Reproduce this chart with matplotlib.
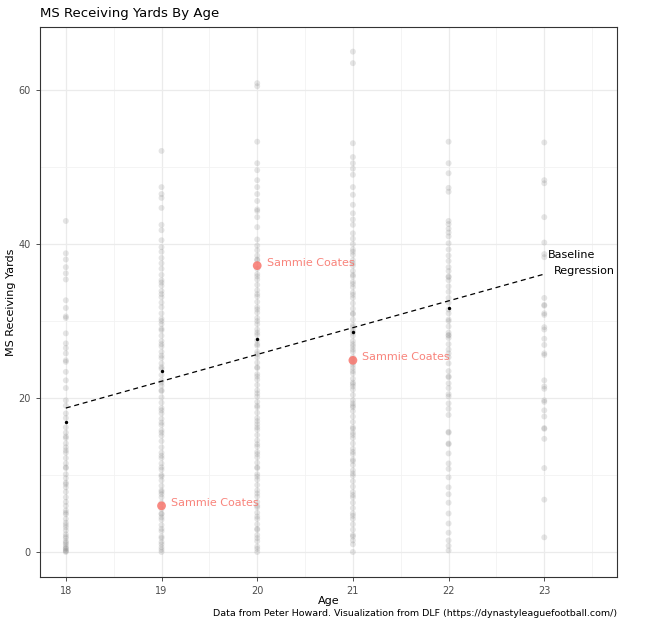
import numpy as np
import matplotlib
matplotlib.use("Agg")
import matplotlib.pyplot as plt

# Market share of receiving yards, one list per age
age18 = [43.0, 38.8, 38.0, 37.0, 36.2, 35.4, 32.7, 31.7, 30.6, 30.4, 28.4, 27.1,
         26.5, 25.8, 24.9, 24.7, 23.4, 22.3, 21.3, 19.7, 19.0, 18.0, 17.4, 16.2,
         15.5, 15.0, 14.8, 14.1, 13.6, 13.2, 12.9, 12.2, 11.5, 11.0, 10.9, 10.1,
         9.6, 9.0, 8.8, 8.4, 7.8, 7.1, 6.5, 6.0, 5.4, 5.1, 4.9, 4.3, 3.8, 3.5,
         3.2, 2.8, 2.3, 2.0, 1.8, 1.4, 1.2, 1.0, 0.7, 0.5, 0.4, 0.2, 0.1, 0.0]
age19 = [52.1, 47.4, 46.5, 46.0, 44.7, 42.5, 41.8, 40.5, 39.6, 39.0, 38.2, 37.5,
         36.8, 36.0, 35.3, 34.6, 33.9, 33.1, 32.4, 31.8, 31.0, 30.3, 29.6, 28.8,
         28.1, 27.4, 26.7, 26.0, 25.2, 24.5, 23.8, 23.0, 22.3, 21.6, 20.9, 20.1,
         19.4, 18.7, 18.0, 17.3, 16.5, 15.8, 15.1, 14.4, 13.6, 12.9, 12.2, 11.5,
         10.7, 10.0, 9.3, 8.6, 7.8, 7.1, 6.4, 5.6, 4.9, 4.2, 3.5, 2.7, 2.0, 1.3,
         0.6, 0.0, 35.0, 30.0, 27.0, 24.0, 21.0, 18.4, 15.5, 12.5, 9.8, 7.5, 5.0,
         3.0, 1.0, 0.3, 33.5, 29.0, 25.5, 22.0, 16.8, 11.0, 8.0, 4.5, 1.8]
age20 = [60.9, 60.5, 53.3, 50.5, 49.6, 48.3, 47.4, 46.5, 45.6, 44.5, 44.3, 43.5,
         42.2, 40.6, 39.8, 39.2, 38.5, 37.9, 36.8, 36.1, 35.4, 34.7, 34.0, 33.2,
         32.5, 31.8, 31.1, 30.4, 29.6, 28.9, 28.2, 27.5, 26.8, 26.0, 25.3, 24.6,
         23.9, 23.1, 22.4, 21.7, 21.0, 20.2, 19.5, 18.8, 18.1, 17.4, 16.6, 15.9,
         15.2, 14.5, 13.7, 13.0, 12.3, 11.6, 10.9, 10.1, 9.4, 8.7, 8.0, 7.2, 6.5,
         5.8, 5.1, 4.3, 3.6, 2.9, 2.2, 1.4, 0.7, 0.0, 38.0, 33.5, 30.0, 27.0,
         24.0, 20.6, 17.0, 14.0, 11.0, 7.6, 4.6, 1.8, 35.8, 31.5, 28.5, 25.7,
         22.8, 19.0, 16.2, 12.7, 9.8, 6.0, 3.0, 0.4]
age21 = [65.0, 63.5, 53.1, 51.3, 50.5, 49.8, 49.0, 47.4, 46.4, 45.1, 44.0, 43.2,
         42.5, 41.4, 40.7, 40.0, 39.3, 38.6, 37.9, 37.2, 36.5, 35.8, 35.1, 34.4,
         33.7, 33.0, 32.3, 31.6, 30.9, 30.2, 29.5, 28.8, 28.1, 27.4, 26.7, 26.0,
         25.3, 24.6, 23.9, 23.2, 22.5, 21.8, 21.1, 20.4, 19.7, 19.0, 18.3, 17.6,
         16.9, 16.2, 15.5, 14.8, 14.1, 13.4, 12.7, 12.0, 11.3, 10.6, 9.9, 9.2,
         8.5, 7.8, 7.1, 6.4, 5.7, 5.0, 4.3, 3.6, 2.9, 2.2, 1.5, 1.0, 0.0, 39.0,
         36.0, 33.4, 31.0, 29.2, 27.0, 25.0, 23.5, 21.5, 18.8, 16.0, 13.0, 10.2,
         7.4, 4.7, 2.0, 37.5, 34.8, 28.5, 26.3, 24.3, 22.0, 19.3, 15.2, 11.8]
age22 = [53.3, 50.5, 49.2, 47.3, 46.8, 43.0, 42.6, 42.0, 41.5, 41.0, 40.1, 39.3,
         38.5, 37.8, 37.0, 36.5, 35.8, 35.7, 35.3, 34.5, 33.8, 33.0, 32.4, 31.5,
         31.0, 30.2, 30.0, 29.3, 28.5, 28.2, 28.1, 27.8, 27.0, 26.3, 25.8, 25.3,
         24.5, 23.5, 22.8, 22.7, 21.9, 21.3, 20.5, 20.2, 19.3, 18.6, 17.8, 15.6,
         15.5, 14.1, 14.0, 12.8, 11.5, 10.8, 9.7, 8.4, 7.5, 6.4, 5.0, 3.7, 2.5,
         1.5, 0.8, 0.2]
age23 = [53.2, 48.3, 47.9, 43.5, 40.2, 38.7, 38.3, 33.0, 32.0, 32.1, 31.0, 30.8,
         29.2, 28.9, 27.7, 26.9, 25.8, 25.6, 22.3, 21.5, 21.2, 19.7, 19.5, 18.4,
         17.6, 16.0, 16.1, 14.7, 10.9, 6.8, 1.9]

ages = [18, 19, 20, 21, 22, 23]
shares = [age18, age19, age20, age21, age22, age23]

# Mean by age
mean_ages = [18, 19, 20, 21, 22]
mean_vals = [16.9, 23.5, 27.7, 28.6, 31.7]

# Baseline regression line end points
reg_x = [18, 23]
reg_y = [18.7, 36.1]

# Highlighted player
player = 'Sammie Coates'
player_ages = [19, 20, 21]
player_vals = [6.0, 37.2, 24.9]

red = '#F8766D'

fig = plt.figure(figsize=(6.48, 6.31), dpi=100)
ax = fig.add_axes([40 / 648, 1 - 577 / 631, 577 / 648, 550 / 631])

for a, vals in zip(ages, shares):
    ax.scatter(np.full(len(vals), a), vals, s=18, color='#7f7f7f', alpha=0.2,
               edgecolors='none', zorder=2)

ax.plot(reg_x, reg_y, linestyle=(0, (4, 3)), color='black', linewidth=0.9, zorder=3)
ax.scatter(mean_ages, mean_vals, s=2, color='black', zorder=4)

ax.scatter(player_ages, player_vals, s=40, color=red, alpha=0.85,
           edgecolors='none', zorder=5)
for a, v in zip(player_ages, player_vals):
    ax.text(a + 0.1, v + 0.4, player, color=red, fontsize=8, alpha=0.9,
            ha='left', va='center', zorder=6)

ax.text(23.04, 38.6, 'Baseline', fontsize=8, ha='left', va='center')
ax.text(23.1, 36.5, 'Regression', fontsize=8, ha='left', va='center')

ax.set_xlim(17.73, 23.76)
ax.set_ylim(-3.25, 68.2)
ax.set_xticks(ages)
ax.set_yticks([0, 20, 40, 60])
ax.set_xticks([18.5, 19.5, 20.5, 21.5, 22.5, 23.5], minor=True)
ax.set_yticks([10, 30, 50], minor=True)
ax.grid(True, which='major', color='#ebebeb', linewidth=0.9, zorder=0)
ax.grid(True, which='minor', color='#f2f2f2', linewidth=0.6, zorder=0)
ax.set_axisbelow(True)
ax.tick_params(which='major', length=3, width=0.6, color='#333333',
               labelsize=7, labelcolor='#4d4d4d')
ax.tick_params(which='minor', length=0)
for sp in ax.spines.values():
    sp.set_color('#333333')
    sp.set_linewidth(0.8)

ax.set_xlabel('Age', fontsize=8, labelpad=0)
ax.set_ylabel('MS Receiving Yards', fontsize=8, labelpad=2)
fig.text(40 / 648, 1 - 14 / 631, 'MS Receiving Yards By Age', fontsize=9.5,
         ha='left', va='center')
fig.text(617 / 648, 1 - 614 / 631,
         'Data from Peter Howard. Visualization from DLF (https://dynastyleaguefootball.com/)',
         fontsize=6.8, ha='right', va='center')

fig.savefig('out.png', dpi=100)
